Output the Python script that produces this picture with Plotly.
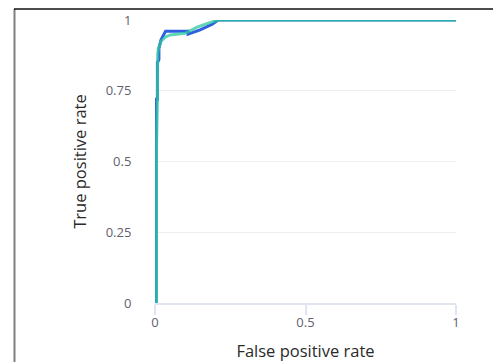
import plotly.graph_objects as go

# ROC curve A (blue)
fpr_a = [0.004, 0.004, 0.004, 0.008, 0.008, 0.013, 0.013, 0.02, 0.035, 0.05, 0.11, 0.11, 0.15, 0.19, 0.21, 1.0]
tpr_a = [0.0, 0.55, 0.72, 0.72, 0.85, 0.86, 0.90, 0.93, 0.96, 0.96, 0.96, 0.95, 0.965, 0.985, 1.0, 1.0]

# ROC curve B (green)
fpr_b = [0.005, 0.005, 0.008, 0.009, 0.012, 0.02, 0.035, 0.05, 0.1, 0.14, 0.18, 0.21, 1.0]
tpr_b = [0.0, 0.55, 0.72, 0.88, 0.90, 0.925, 0.94, 0.947, 0.953, 0.975, 0.99, 1.0, 1.0]

x_ticks = [0, 0.5, 1]
x_tick_text = ["0", "0.5", "1"]
y_ticks = [0, 0.25, 0.5, 0.75, 1]
y_tick_text = ["0", "0.25", "0.5", "0.75", "1"]

fig = go.Figure()
fig.add_trace(go.Scatter(x=fpr_a, y=tpr_a, mode="lines",
                         line=dict(color="#2f5ee0", width=3), showlegend=False))
fig.add_trace(go.Scatter(x=fpr_b, y=tpr_b, mode="lines",
                         line=dict(color="#2cc8a0", width=3), opacity=0.75, showlegend=False))

# page body has an 8px margin, so the figure starts at screen (8, 8)
OFF = 8
W, H = 501 - OFF, 362 - OFF
L, R, T, B = 155 - OFF, 45, 20 - OFF, 59
pw, ph = W - L - R, H - T - B

def px_x(p):
    return (p - OFF - L) / pw

def px_y(p):
    return (H - B - (p - OFF)) / ph

fig.update_layout(
    width=W, height=H,
    margin=dict(l=L, r=R, t=T, b=B, pad=0, autoexpand=False),
    paper_bgcolor="white", plot_bgcolor="white",
    font=dict(family="Open Sans, Noto Sans, sans-serif", color="#5f5f6e", size=13),
    xaxis=dict(range=[0, 1], tickvals=x_ticks, ticktext=x_tick_text,
               showgrid=False, zeroline=False, automargin=False,
               showline=True, linecolor="#dfe4f0", linewidth=2,
               ticks="outside", ticklen=10, tickcolor="#dfe4f0", tickwidth=2,
               ticklabelstandoff=-4,
               title=dict(text="False positive rate", font=dict(size=16.5, color="#2a2a2a"), standoff=17)),
    yaxis=dict(range=[0, 1], tickvals=y_ticks, ticktext=y_tick_text,
               showgrid=True, gridcolor="#eeeeee", gridwidth=1,
               zeroline=False, showline=False, automargin=False,
               ticks="outside", ticklen=20, tickcolor="rgba(0,0,0,0)",
               title=dict(text="True positive rate", font=dict(size=16.5, color="#2a2a2a"), standoff=14)),
    shapes=[
        dict(type="line", xref="paper", yref="paper",
             x0=px_x(14.5), x1=px_x(14.5), y0=px_y(9), y1=px_y(362),
             line=dict(color="#808080", width=2)),
        dict(type="line", xref="paper", yref="paper",
             x0=px_x(14), x1=px_x(501), y0=px_y(9), y1=px_y(9),
             line=dict(color="#111111", width=1.5)),
        dict(type="line", xref="paper", yref="paper",
             x0=px_x(499.5), x1=px_x(499.5), y0=px_y(9), y1=px_y(362),
             line=dict(color="#e6e6e6", width=1)),
    ],
)

fig.write_html("out.html")
